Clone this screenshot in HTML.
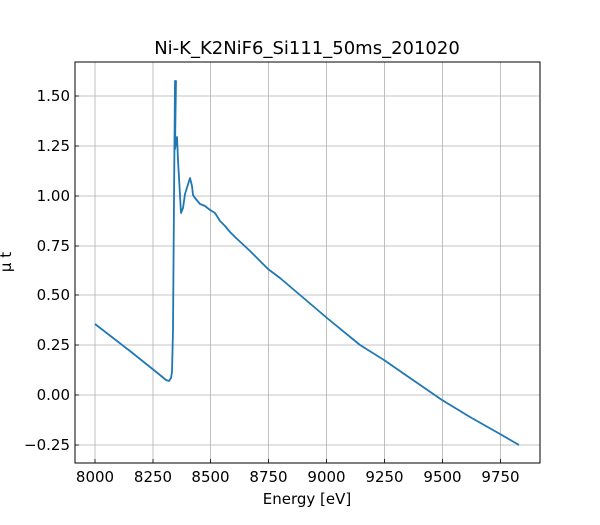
<!DOCTYPE html>
<html><head><style>body{margin:0;background:#fff}</style></head><body>
<svg width="600" height="520" xmlns="http://www.w3.org/2000/svg" font-family="DejaVu Sans, Liberation Sans, sans-serif">
<rect width="600" height="520" fill="#fff"/>
<g stroke="#b0b0b0" stroke-width="0.8">
<line x1="95" y1="62" x2="95" y2="463"/><line x1="153" y1="62" x2="153" y2="463"/><line x1="210.5" y1="62" x2="210.5" y2="463"/><line x1="268.5" y1="62" x2="268.5" y2="463"/><line x1="326.5" y1="62" x2="326.5" y2="463"/><line x1="384.5" y1="62" x2="384.5" y2="463"/><line x1="442.5" y1="62" x2="442.5" y2="463"/><line x1="500.5" y1="62" x2="500.5" y2="463"/>
<line x1="75" y1="96" x2="540" y2="96"/><line x1="75" y1="146" x2="540" y2="146"/><line x1="75" y1="196" x2="540" y2="196"/><line x1="75" y1="246" x2="540" y2="246"/><line x1="75" y1="295" x2="540" y2="295"/><line x1="75" y1="345" x2="540" y2="345"/><line x1="75" y1="395" x2="540" y2="395"/><line x1="75" y1="445" x2="540" y2="445"/>
</g>
<polyline fill="none" stroke="#1f77b4" stroke-width="1.8" stroke-linejoin="round" points="95,324 130,351 160,375 166,380 169,381 171,378 172,372 173,330 174,200 175,81 176,81 175,149 177,137 178,160 181,213 183,208 185,194 190,178 192,186 193,195 195,198 200,204 205,206 210,210 215,213 220,221 225,226 230,232 235,237 250,251 268,269 280,278 300,295 327,318 360,345 384,360 410,378 442,400 470,417 500,434 519,445"/>
<rect x="75" y="62" width="465" height="401" fill="none" stroke="#000" stroke-width="1"/>
<g stroke="#000" stroke-width="0.8">
<line x1="95" y1="463" x2="95" y2="459"/><line x1="153" y1="463" x2="153" y2="459"/><line x1="210.5" y1="463" x2="210.5" y2="459"/><line x1="268.5" y1="463" x2="268.5" y2="459"/><line x1="326.5" y1="463" x2="326.5" y2="459"/><line x1="384.5" y1="463" x2="384.5" y2="459"/><line x1="442.5" y1="463" x2="442.5" y2="459"/><line x1="500.5" y1="463" x2="500.5" y2="459"/>
<line x1="75" y1="96" x2="79" y2="96"/><line x1="75" y1="146" x2="79" y2="146"/><line x1="75" y1="196" x2="79" y2="196"/><line x1="75" y1="246" x2="79" y2="246"/><line x1="75" y1="295" x2="79" y2="295"/><line x1="75" y1="345" x2="79" y2="345"/><line x1="75" y1="395" x2="79" y2="395"/><line x1="75" y1="445" x2="79" y2="445"/>
</g>
<g font-size="15" fill="#000" text-anchor="middle">
<text x="95" y="482">8000</text><text x="153" y="482">8250</text><text x="210.5" y="482">8500</text><text x="268.5" y="482">8750</text><text x="326.5" y="482">9000</text><text x="384.5" y="482">9250</text><text x="442.5" y="482">9500</text><text x="500.5" y="482">9750</text>
</g>
<g font-size="15" fill="#000" text-anchor="end">
<text x="70" y="101">1.50</text><text x="70" y="151">1.25</text><text x="70" y="201">1.00</text><text x="70" y="251">0.75</text><text x="70" y="300">0.50</text><text x="70" y="350">0.25</text><text x="70" y="400">0.00</text><text x="70" y="450">−0.25</text>
</g>
<text x="307" y="504" font-size="15" text-anchor="middle">Energy [eV]</text>
<text x="307" y="54" font-size="18" text-anchor="middle">Ni-K_K2NiF6_Si111_50ms_201020</text>
<text transform="translate(11,262) rotate(-90)" font-size="15" text-anchor="middle">μ t</text>
</svg>
</body></html>
